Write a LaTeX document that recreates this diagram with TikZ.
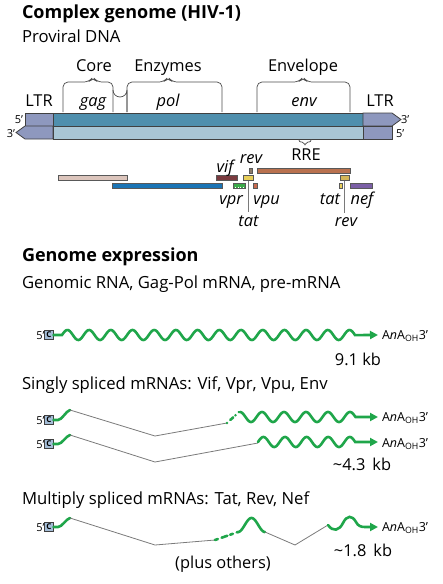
\documentclass[tikz,border=0pt]{standalone}
\usepackage{fontspec}
\setmainfont{Open Sans}
\usetikzlibrary{arrows.meta}

\definecolor{ltrblue}{HTML}{8E98BE}
\definecolor{topstrand}{HTML}{4F8FAD}
\definecolor{botstrand}{HTML}{A9C6D5}
\definecolor{rnagreen}{HTML}{1FA64A}
\definecolor{capblue}{HTML}{A3BCD6}
\definecolor{splicegray}{HTML}{7A7A7A}
\definecolor{gagpink}{HTML}{DCC5BC}
\definecolor{polblue}{HTML}{1A74B5}
\definecolor{vifbrown}{HTML}{7A3B3F}
\definecolor{vprgreen}{HTML}{3BAA4A}
\definecolor{tatyellow}{HTML}{E8CF5A}
\definecolor{tatolive}{HTML}{D4B558}
\definecolor{revgray}{HTML}{8C7B6A}
\definecolor{vpured}{HTML}{C96B4F}
\definecolor{envbrown}{HTML}{B9714F}
\definecolor{nefpurple}{HTML}{7B5FA6}

\begin{document}
\begin{tikzpicture}[x=1pt, y=-1pt, >=Stealth,
    every node/.style={inner sep=0pt, outer sep=0pt},
    heading/.style={font=\fontsize{18}{21}\selectfont\bfseries, anchor=base west},
    subhead/.style={font=\fontsize{16.7}{19}\selectfont, anchor=base west},
    region/.style={font=\fontsize{16.4}{19}\selectfont, anchor=base},
    gene/.style={font=\fontsize{16.4}{19}\selectfont\itshape, anchor=base},
    endmark/.style={font=\fontsize{11}{12}\selectfont, anchor=base},
    polytail/.style={font=\fontsize{12.5}{14}\selectfont, anchor=base west},
    strand/.style={draw=black!75, line width=0.8pt},
    brace/.style={draw=black!70, line width=0.7pt, rounded corners=5pt},
    orf/.style={draw=black!65, line width=0.5pt, rectangle, minimum height=5pt},
    rna/.style={draw=rnagreen, line width=2.6pt, line cap=round},
    splice/.style={draw=splicegray, line width=0.8pt},
    tip/.style={-{Triangle[length=8pt, width=8pt]}},
    capbox/.style={draw=black!75, fill=capblue, line width=0.6pt, minimum size=9pt, font=\fontsize{8}{9}\selectfont\bfseries}
  ]
  \useasboundingbox (0,0) rectangle (443,584);

  % headings
  \node[heading] (title) at (22,18.5) {Complex genome (HIV-1)};
  \node[subhead] (proviral) at (22,42) {Proviral DNA};

  % braces over the genes
  \draw[brace] (63,112) -- (63,82) -- (89,82) -- (93,77) -- (97,82) -- (113,82) -- (113,112);
  \draw[brace] (127,112) -- (127,82) -- (164,82) -- (168,77) -- (172,82) -- (222,82) -- (222,112);
  \draw[draw=black!70, line width=0.7pt] (113,90) arc (180:0:7) -- (127,112);
  \draw[brace] (257,112) -- (257,82) -- (299,82) -- (303,77) -- (307,82) -- (350,82) -- (350,112);
  \node[region] (core) at (94,71) {Core};
  \node[region] (enzymes) at (168,71) {Enzymes};
  \node[region] (envelope) at (303,71) {Envelope};
  \node[gene] (gag) at (93,106) {gag};
  \node[gene] (pol) at (168,106) {pol};
  \node[gene] (env) at (304,106) {env};
  \node[region] (ltrL) at (39,106) {LTR};
  \node[region] (ltrR) at (380,106) {LTR};

  % proviral DNA strands
  \draw[strand, fill=ltrblue] (25,113) rectangle (53,126);
  \draw[strand, fill=topstrand] (53,113) rectangle (363,126);
  \draw[strand, fill=ltrblue] (363,113) -- (392,113) -- (401,119.5) -- (392,126) -- (363,126) -- cycle;
  \draw[strand, fill=ltrblue] (25,126) -- (53,126) -- (53,139) -- (25,139) -- (16,132.5) -- cycle;
  \draw[strand, fill=botstrand] (53,126) rectangle (363,139);
  \draw[strand, fill=ltrblue] (363,126) rectangle (392,139);
  \node[endmark, anchor=base east] (p5L) at (23,123) {5'};
  \node[endmark, anchor=base east] (p3L) at (15,137) {3'};
  \node[endmark, anchor=base west] (p3R) at (401,123) {3'};
  \node[endmark, anchor=base west] (p5R) at (396,137) {5'};

  % RRE
  \draw[brace, rounded corners=2pt] (299,139) -- (299,142) -- (304,142) -- (305,146) -- (306,142) -- (311,142) -- (311,139);
  \node[region] (rre) at (306,160.5) {RRE};

  % open reading frames
  \node[orf, fill=gagpink, minimum width=69pt] (gagorf) at (92.5,178.2) {};
  \node[orf, fill=polblue, minimum width=110pt] (polorf) at (167.5,185.5) {};
  \node[orf, fill=vifbrown, minimum width=21pt] (viforf) at (226.5,178.2) {};
  \node[orf, fill=vprgreen, minimum width=12.5pt] (vprorf) at (239.3,185.5) {};
  \foreach \t in {235.5,238,...,244} \draw[white, line width=0.4pt] (\t,186.5) -- (\t,188);
  \node[orf, fill=tatyellow, minimum width=10pt] (tat1) at (247.8,178.2) {};
  \node[orf, fill=revgray, minimum width=3.5pt] (rev1) at (250.8,170.5) {};
  \node[orf, fill=vpured, minimum width=3.5pt] (vpuorf) at (255,185.5) {};
  \node[orf, fill=envbrown, minimum width=93pt] (envorf) at (303.5,170.5) {};
  \node[orf, fill=tatolive, minimum width=9pt] (tat2) at (344.5,178.2) {};
  \node[orf, fill=tatyellow, minimum width=2.5pt] (rev2) at (340.5,185.5) {};
  \node[orf, fill=nefpurple, minimum width=22.5pt] (neforf) at (361.4,185.5) {};

  \node[gene] (vif) at (225,172.7) {vif};
  \node[gene] (revtop) at (251,163) {rev};
  \node[gene] (vpr) at (231,204) {vpr};
  \node[gene] (vpu) at (266.5,204) {vpu};
  \node[gene] (tatlo) at (248.5,226) {tat};
  \node[gene] (tathi) at (330,204) {tat};
  \node[gene] (nef) at (362,204) {nef};
  \node[gene] (revlo) at (346,226) {rev};
  \draw[splice, line width=0.6pt] (tat1.south) -- (tat1.south |- 0,212);
  \draw[splice, line width=0.6pt] (tat2.south) -- (tat2.south |- 0,213);

  % genome expression
  \node[heading] (expr) at (22,261) {Genome expression};
  \node[subhead] (genomic) at (22,288) {Genomic RNA, Gag-Pol mRNA, pre-mRNA};

  % full-length RNA
  \node[capbox] (capA) at (49,335) {C};
  \node[endmark, anchor=base east] (fiveA) at (44.5,339) {5'};
  \draw[rna, tip] (capA.east) -- (62,335)
    -- plot[domain=62:355, samples=300] (\x, {335 - 5*sin(16.59*(\x-62))}) -- (378,335);
  \node[polytail] (polyA) at (382,339) {A\textit{n}A\textsubscript{OH}3'};
  \node[region] (kbA) at (358,365) {9.1 kb};

  % singly spliced
  \node[subhead] (singly) at (22,389) {Singly spliced mRNAs: Vif, Vpr, Vpu, Env};
  \node[capbox] (capB) at (49,420) {C};
  \node[endmark, anchor=base east] (fiveB) at (44.5,424) {5'};
  \coordinate (donB) at (70,410);
  \coordinate (accB) at (227,423);
  \draw[rna] (capB.east) -- (58,420) .. controls (62,420) and (66,411) .. (donB);
  \draw[splice] (donB) -- (155,436) -- (accB);
  \draw[rna, dash pattern=on 0pt off 4.5pt on 4pt off 3pt] (accB) -- (239,412);
  \draw[rna, tip] plot[domain=240:355.5, samples=200] (\x, {417 - 5*cos(16.3636*(\x-240))}) -- (378,417);
  \node[polytail] (polyB) at (382,421) {A\textit{n}A\textsubscript{OH}3'};

  \node[capbox] (capC) at (49,444) {C};
  \node[endmark, anchor=base east] (fiveC) at (44.5,448) {5'};
  \coordinate (donC) at (70,435);
  \coordinate (accC) at (258,443);
  \draw[rna] (capC.east) -- (58,444) .. controls (62,444) and (66,436) .. (donC);
  \draw[splice] (donC) -- (155,462) -- (accC);
  \draw[rna, tip] plot[domain=258:355.2, samples=200] (\x, {442 - 5*sin(16.6667*(\x-258))}) -- (378,442);
  \node[polytail] (polyC) at (382,447) {A\textit{n}A\textsubscript{OH}3'};
  \node[region] (kbB) at (362,470) {\textasciitilde4.3\ \,kb};

  % multiply spliced
  \node[subhead] (multiply) at (22,504) {Multiply spliced mRNAs: Tat, Rev, Nef};
  \node[capbox] (capD) at (49,527) {C};
  \node[endmark, anchor=base east] (fiveD) at (44.5,531) {5'};
  \coordinate (donD) at (70,518);
  \coordinate (accD) at (215,540);
  \coordinate (donE) at (265,532);
  \coordinate (accE) at (328,525);
  \draw[rna] (capD.east) -- (58,527) .. controls (62,527) and (66,519) .. (donD);
  \draw[splice] (donD) -- (155,545) -- (accD);
  \draw[rna, dash pattern=on 3pt off 4pt on 6pt off 3pt] (accD) -- (238,532);
  \draw[rna] plot[domain=238:265, samples=60] (\x, {532 - 7*(1-cos(13.3333*(\x-238)))});
  \draw[splice] (donE) -- (295,545) -- (accE);
  \draw[rna, tip] (accE) .. controls (333,532) and (339,531) .. (343,523)
    .. controls (347,515) and (352,515) .. (356,522)
    .. controls (358,526) and (361,527) .. (365,527) -- (378,527);
  \node[polytail] (polyD) at (382,531) {A\textit{n}A\textsubscript{OH}3'};
  \node[region] (kbC) at (363,556) {\textasciitilde1.8\ \,kb};
  \node[region] (others) at (223,568) {(plus others)};
\end{tikzpicture}
\end{document}
